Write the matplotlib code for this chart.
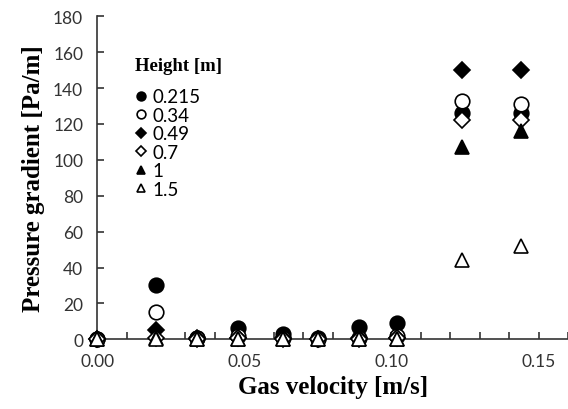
import matplotlib
matplotlib.use('Agg')

import matplotlib.pyplot as plt
from matplotlib.ticker import MultipleLocator

velocity = [0.0, 0.020, 0.034, 0.048, 0.063, 0.075, 0.089, 0.102, 0.124, 0.144]

heights = ['0.215', '0.34', '0.49', '0.7', '1', '1.5']
grad_0215 = [0, 30.5, 1, 6.5, 3, 1, 7, 9, 126, 126]
grad_034 = [0, 15, 0.5, 2, 1, 0, 1, 2, 133, 131]
grad_049 = [0, 5, 0.5, 1, 0.5, 0, 0.5, 1, 150, 150]
grad_07 = [0, 1, 0, 0.5, 0, 0, 0, 0.5, 122, 122]
grad_1 = [0, 0.5, 0, 0, 0, 0, 0, 0, 107, 116]
grad_15 = [0, 0, 0, 0, 0, 0, 0, 0, 44, 52]

series = [grad_0215, grad_034, grad_049, grad_07, grad_1, grad_15]
markers = ['o', 'o', 'D', 'D', '^', '^']
faces = ['black', 'white', 'black', 'white', 'black', 'white']
sizes = [10.5, 10.5, 8, 8, 10.5, 10.5]

fig = plt.figure(figsize=(5.68, 4.10), dpi=100)
ax = fig.add_axes([0.171, 0.170, 0.829, 0.788])

for h, y, m, fc, ms in zip(heights, series, markers, faces, sizes):
    ax.plot(velocity, y, linestyle='none', marker=m, markersize=ms,
            markerfacecolor=fc, markeredgecolor='black', markeredgewidth=1.2,
            label=h, clip_on=False, zorder=3)

ax.set_xlim(0, 0.16)
ax.set_ylim(0, 180)
ax.xaxis.set_major_locator(MultipleLocator(0.05))
ax.xaxis.set_minor_locator(MultipleLocator(0.01))
ax.yaxis.set_major_locator(MultipleLocator(20))
ax.xaxis.set_major_formatter(plt.FuncFormatter(lambda v, p: '%.2f' % v))

for side in ['top', 'right']:
    ax.spines[side].set_visible(False)
for side in ['left', 'bottom']:
    ax.spines[side].set_linewidth(1.2)
    ax.spines[side].set_color('#333333')

ax.tick_params(which='both', direction='in', length=5, width=1.2, color='#333333',
               labelsize=12.5, labelcolor='#333333', pad=10)
for lab in ax.get_xticklabels() + ax.get_yticklabels():
    lab.set_family('Lato')

ax.set_xlabel('Gas velocity [m/s]', family='Liberation Serif', fontweight='bold',
              fontsize=18, labelpad=4)
ax.set_ylabel('Pressure gradient [Pa/m]', family='Liberation Serif', fontweight='bold',
              fontsize=18, labelpad=6)

leg = ax.legend(loc='upper left', bbox_to_anchor=(0.045, 0.925), frameon=False,
                title='Height [m]', markerscale=0.6, handlelength=0.6,
                handletextpad=0.3, labelspacing=0.08,
                prop={'family': 'Lato', 'size': 13.5})
leg.get_title().set_fontfamily('Liberation Serif')
leg.get_title().set_fontweight('bold')
leg.get_title().set_fontsize(13.5)
leg._legend_box.align = 'left'
leg._legend_box.sep = 10

plt.savefig('out.png', dpi=100)
plt.close()
